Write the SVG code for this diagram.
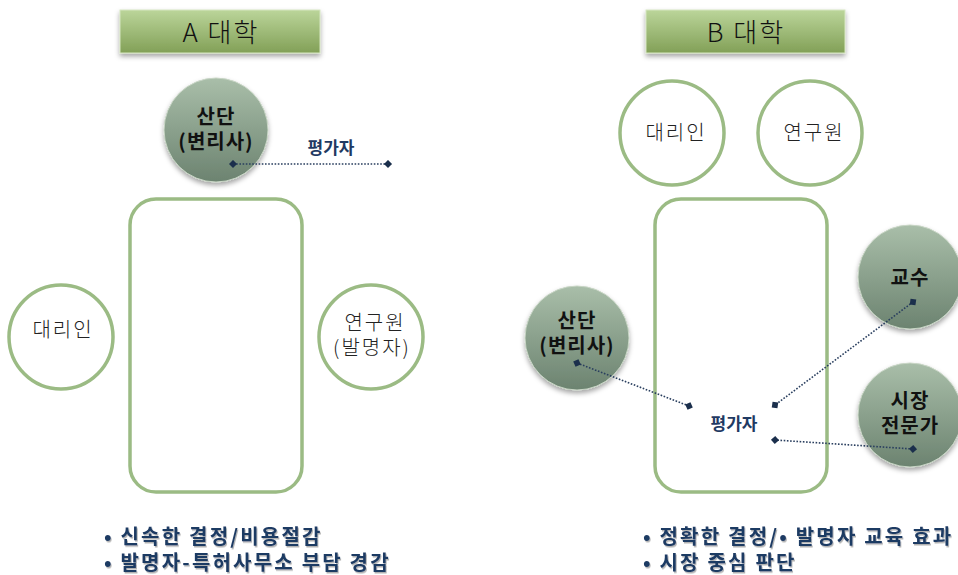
<svg xmlns="http://www.w3.org/2000/svg" width="958" height="575" viewBox="0 0 958 575">
<defs>
<linearGradient id="gTitle" x1="0" y1="0" x2="0" y2="1">
<stop offset="0" stop-color="#bbd59a"/>
<stop offset="1" stop-color="#82a057"/>
</linearGradient>
<linearGradient id="gCirc" x1="0" y1="0" x2="0" y2="1">
<stop offset="0" stop-color="#a9bea9"/>
<stop offset="1" stop-color="#6c8370"/>
</linearGradient>
<filter id="sh" x="-20%" y="-20%" width="140%" height="150%">
<feDropShadow dx="0" dy="3" stdDeviation="2.5" flood-color="#000" flood-opacity="0.35"/>
</filter>
<filter id="tsh" x="-5%" y="-20%" width="110%" height="150%">
<feDropShadow dx="1" dy="1.5" stdDeviation="0.6" flood-color="#000" flood-opacity="0.3"/>
</filter>
<marker id="dm" viewBox="-5 -5 10 10" markerWidth="9" markerHeight="9" refX="0" refY="0" markerUnits="userSpaceOnUse" orient="auto">
<path d="M-4.5 0 L0 -4.5 L4.5 0 L0 4.5 Z" fill="#1b2f4c"/>
</marker>
</defs>
<style>
text{font-family:"Noto Sans CJK KR","Noto Sans",sans-serif;text-anchor:middle}
.title rect{fill:url(#gTitle);stroke:#d6e6c2;stroke-width:1;filter:url(#sh)}
.title text{font-size:26px;fill:#111;font-weight:300;letter-spacing:2px}
.ring circle{fill:#fff;stroke:#9bbb84;stroke-width:3.5}
.ring text{font-size:20px;fill:#222;font-weight:300;letter-spacing:2px}
.solid circle{fill:url(#gCirc);stroke:#c9d6c6;stroke-width:1;filter:url(#sh)}
.solid text{font-size:20px;fill:#111;font-weight:bold;letter-spacing:1px}
.box rect{fill:#fff;stroke:#9bbb84;stroke-width:3.5}
.eval{font-size:17px;fill:#1f3a63;font-weight:bold}
.conn line{stroke:#2a3f5f;stroke-width:1.6;stroke-dasharray:1.6 1.6;marker-start:url(#dm);marker-end:url(#dm)}
.note text{font-size:20px;fill:#1f3a63;font-weight:bold;text-anchor:start;letter-spacing:2.2px;filter:url(#tsh)}
</style>

<g id="titleA" class="title"><rect x="120" y="10" width="200" height="43"/><text x="221" y="42">A 대학</text></g>
<g id="titleB" class="title"><rect x="646" y="10" width="199" height="43"/><text x="746" y="42">B 대학</text></g>

<g id="boxA" class="box"><rect x="130" y="199" width="172" height="293" rx="26"/></g>
<g id="boxB" class="box"><rect x="655" y="199" width="172" height="293" rx="26"/></g>

<g id="A-sandan" class="solid"><circle cx="216" cy="130" r="52"/><text x="216" y="124">산단</text><text x="216" y="149">(변리사)</text></g>
<g id="A-agent" class="ring"><circle cx="61" cy="337" r="52"/><text x="63" y="337">대리인</text></g>
<g id="A-researcher" class="ring"><circle cx="371" cy="337" r="52"/><text x="375" y="330">연구원</text><text x="372" y="355">(발명자)</text></g>
<text id="A-eval" class="eval" x="331" y="154">평가자</text>

<g id="B-agent" class="ring"><circle cx="672" cy="133" r="52"/><text x="676" y="140">대리인</text></g>
<g id="B-researcher" class="ring"><circle cx="810" cy="133" r="52"/><text x="814" y="140">연구원</text></g>
<g id="B-sandan" class="solid"><circle cx="577" cy="338" r="52"/><text x="577" y="328">산단</text><text x="577" y="353">(변리사)</text></g>
<g id="B-prof" class="solid"><circle cx="910" cy="277" r="52"/><text x="910" y="285">교수</text></g>
<g id="B-market" class="solid"><circle cx="910" cy="415" r="52"/><text x="910" y="408">시장</text><text x="910" y="433">전문가</text></g>
<text id="B-eval" class="eval" x="734" y="430">평가자</text>

<g id="connectors" class="conn">
<line x1="233" y1="164" x2="388" y2="164"/>
<line x1="577" y1="363" x2="689" y2="406"/>
<line x1="913" y1="302" x2="775" y2="405"/>
<line x1="913" y1="449" x2="775" y2="440"/>
</g>

<g id="noteA" class="note"><text x="104" y="544">• 신속한 결정/비용절감</text><text x="104" y="570">• 발명자-특허사무소 부담 경감</text></g>
<g id="noteB" class="note"><text x="643" y="544">• 정확한 결정/• 발명자 교육 효과</text><text x="643" y="570">• 시장 중심 판단</text></g>
</svg>
